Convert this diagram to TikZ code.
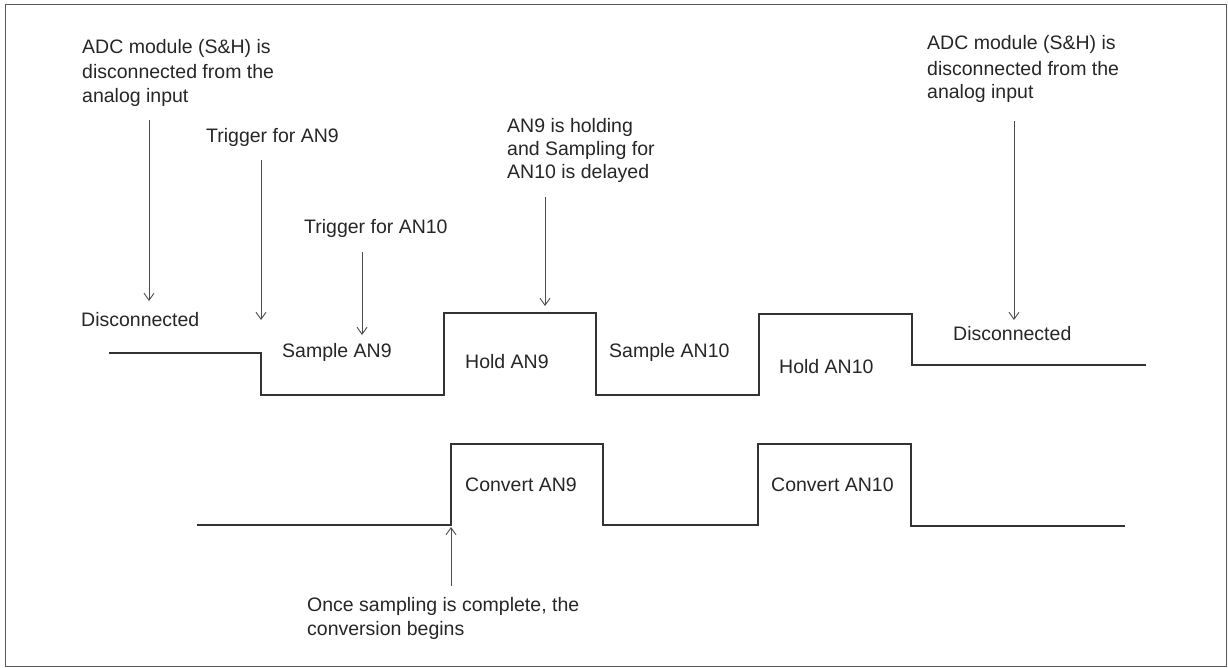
\documentclass[tikz,border=0pt]{standalone}
\usepackage{fontspec}
\setmainfont{Liberation Sans}
\usetikzlibrary{arrows.meta}
\begin{document}
\begin{tikzpicture}[x=1pt,y=-1pt,
  lbl/.style={anchor=west,inner sep=0,font=\fontsize{19.5}{24.5}\selectfont,align=left,text=black!85},
  wave/.style={line width=1.3pt,black!80},
  arr/.style={-{Straight Barb[length=7pt,width=10pt]},line width=0.9pt,black!70}]
\useasboundingbox (0,0) rectangle (1228,668);
\draw[black!65,line width=1pt] (5,5) rectangle (1226,666);
% waveforms
\draw[wave] (109,353) -- (261,353) -- (261,395) -- (444,395) -- (444,313) -- (596,313) -- (596,395) -- (759,395) -- (759,314) -- (912,314) -- (912,365) -- (1146,365);
\draw[wave] (197,525) -- (451,525) -- (451,444) -- (603,444) -- (603,525) -- (758,525) -- (758,444) -- (911,444) -- (911,526) -- (1125,526);
% labels
\node[lbl] (t1) at (82,48) {ADC module (S\&H) is};
\node[lbl] at (82,72) {disconnected from the};
\node[lbl] at (82,97) {analog input};
\node[lbl] (t5) at (927,44) {ADC module (S\&H) is};
\node[lbl] at (927,69) {disconnected from the};
\node[lbl] at (927,93) {analog input};
\node[lbl] (t2) at (206,137) {Trigger for AN9};
\node[lbl] (t3) at (304,228) {Trigger for AN10};
\node[lbl] (t4) at (507,127) {AN9 is holding};
\node[lbl] at (507,150) {and Sampling for};
\node[lbl] at (507,173) {AN10 is delayed};
\node[lbl] (d1) at (81,320) {Disconnected};
\node[lbl] at (282,352) {Sample AN9};
\node[lbl] at (465,362) {Hold AN9};
\node[lbl] at (609,352) {Sample AN10};
\node[lbl] at (779,367) {Hold AN10};
\node[lbl] (d2) at (953,334) {Disconnected};
\node[lbl] at (465,485) {Convert AN9};
\node[lbl] at (771,485) {Convert AN10};
\node[lbl] (b1) at (307,606) {Once sampling is complete, the};
\node[lbl] at (307,630) {conversion begins};
% arrows
\coordinate (a1s) at (149,120); \coordinate (a1e) at (149,301);
\coordinate (a2s) at (261,160); \coordinate (a2e) at (261,320);
\coordinate (a3s) at (362,252); \coordinate (a3e) at (362,335);
\coordinate (a4s) at (545,197); \coordinate (a4e) at (545,306);
\coordinate (a5s) at (1014,121); \coordinate (a5e) at (1014,320);
\coordinate (a6s) at (451,586); \coordinate (a6e) at (451,527);
\foreach \i in {1,...,6} \draw[arr] (a\i s) -- (a\i e);
\end{tikzpicture}
\end{document}
